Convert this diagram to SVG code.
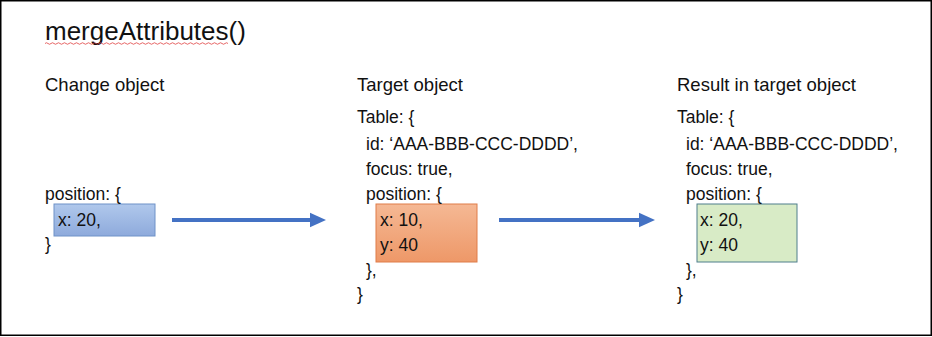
<svg xmlns="http://www.w3.org/2000/svg" width="932" height="337" viewBox="0 0 932 337">
<style>
text{font-family:"Liberation Sans",Arial,sans-serif;font-size:17.5px;fill:#111}
.title{font-size:26px}
.head{font-size:18.5px}
.conn{stroke:#4472c4;stroke-width:4;fill:none}
</style>
<defs>
<linearGradient id="gBlue" x1="0" y1="0" x2="0" y2="1"><stop offset="0" stop-color="#b0c8ec"/><stop offset="1" stop-color="#8eaadc"/></linearGradient>
<linearGradient id="gOrange" x1="0" y1="0" x2="0" y2="1"><stop offset="0" stop-color="#f5b894"/><stop offset="1" stop-color="#ee9868"/></linearGradient>
<marker id="ah" markerWidth="5" markerHeight="5" refX="1" refY="2.5" orient="auto" markerUnits="strokeWidth"><path d="M0,0.7 L4,2.5 L0,4.3 Z" fill="#4472c4"/></marker>
</defs>
<rect x="0.75" y="0.75" width="930.5" height="334.5" fill="#fff" stroke="#000" stroke-width="1.5"/>
<g id="title">
<text class="title" x="45" y="40">mergeAttributes()</text>
<path d="M45,43.5 q1.5,-1.5 3,0 t3,0 t3,0 t3,0 t3,0 t3,0 t3,0 t3,0 t3,0 t3,0 t3,0 t3,0 t3,0 t3,0 t3,0 t3,0 t3,0 t3,0 t3,0 t3,0 t3,0 t3,0 t3,0 t3,0 t3,0 t3,0 t3,0 t3,0 t3,0 t3,0 t3,0 t3,0 t3,0 t3,0 t3,0 t3,0 t3,0 t3,0 t3,0 t3,0 t3,0 t3,0 t3,0 t3,0 t3,0 t3,0 t3,0 t3,0 t3,0 t3,0 t3,0 t3,0 t3,0 t3,0 t3,0 t3,0 t3,0 t3,0 t3,0 t3,0 t3,0" fill="none" stroke="#e04040" stroke-width="0.8"/>
</g>
<g id="change">
<text class="head" x="45" y="91">Change object</text>
<rect x="54" y="204" width="101" height="32" fill="url(#gBlue)" stroke="#6f92c8" stroke-width="1"/>
<text x="45" y="200">position: {</text>
<text x="58" y="226">x: 20,</text>
<text x="45" y="250">}</text>
</g>
<g id="target">
<text class="head" x="357" y="91">Target object</text>
<text x="357" y="123">Table: {</text>
<text x="366" y="150">id: ‘AAA-BBB-CCC-DDDD’,</text>
<text x="366" y="175">focus: true,</text>
<rect x="376" y="204" width="101" height="58" fill="url(#gOrange)" stroke="#e07c48" stroke-width="1"/>
<text x="366" y="200">position: {</text>
<text x="380" y="226">x: 10,</text>
<text x="380" y="251">y: 40</text>
<text x="366" y="276">},</text>
<text x="357" y="300">}</text>
</g>
<g id="result">
<text class="head" x="677" y="91">Result in target object</text>
<text x="677" y="123">Table: {</text>
<text x="686" y="150">id: ‘AAA-BBB-CCC-DDDD’,</text>
<text x="686" y="175">focus: true,</text>
<rect x="697" y="204" width="100" height="58" fill="#d8ebc6" stroke="#4f7f8c" stroke-width="1"/>
<text x="686" y="200">position: {</text>
<text x="700" y="226">x: 20,</text>
<text x="700" y="251">y: 40</text>
<text x="686" y="276">},</text>
<text x="677" y="300">}</text>
</g>
<g id="connectors">
<line class="conn" x1="172" y1="220" x2="314" y2="220" marker-end="url(#ah)"/>
<line class="conn" x1="499" y1="220" x2="643" y2="220" marker-end="url(#ah)"/>
</g>
</svg>
